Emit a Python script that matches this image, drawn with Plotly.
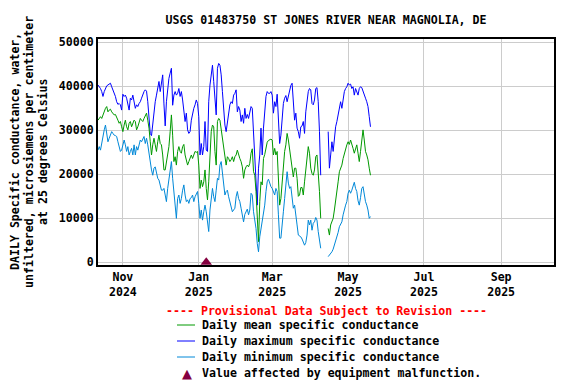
import pandas as pd
import plotly.graph_objects as go

N = None
start_date = "2024-10-12"

daily_max = [
    40300, 39900, 39500, 38800, 37700, 38800, 39700, 40100, 40300, 40500,
    40700, 39900, 39200, 38400, 37700, 36500, 35900, 36100, 35800, 34600,
    38200, 37700, 38000, 37300, 36100, 34600, 37300, 36900, 38000, 36100,
    35000, 35800, 35400, 36100, 36500, 37300, 38200, 38800, 39200, 38900,
    36500, 32000, 29300, 28800, 32000, 34200, 36500, 38000, 39500, 41100,
    38800, 41400, 42600, 36000, 31000, 36500, 39500, 41800, 43000, 44100,
    35700, 38000, 38800, 38000, 38400, 39500, 37700, 38800, 36900, 34600,
    32000, 33900, 30100, 29300, 29700, 32300, 33900, 35000, 35800, 36900,
    36100, 33100, 24400, 27000, 24400, 26300, 32000, 25500, 25200, 36500,
    40300, 43300, 44800, 41100, 36500, 33500, 44100, 45200, 44800, 42600,
    38800, 35000, 31200, 29700, 32000, 34600, 35800, 36500, 36100, 38000,
    38400, 39200, 34200, 35400, 34600, 32000, 33500, 31600, 35000, 32700,
    33600, 32700, 33900, 35400, 35000, 29700, 26700, 19800, 13000, 21400,
    24400, 30500, 24400, 30500, 33900, 37700, 38800, 38400, 38400, 38800,
    38000, 33900, 36500, 35400, 38200, 32000, 27000, 28900, 32000, 36100,
    37300, 37900, 36500, 37700, 39300, 40200, 40700, 35400, 32300, 33900,
    30500, 29700, 28200, 30800, 31000, 32000, 29300, 34200, 36900, 38800,
    39500, 39200, 36100, 35800, 36900, 39500, 39700, 36500, 29700, 19800,
    N, N, N, N, N, 29700, 21400, 24400, 27400, 25200,
    28200, 30800, 32000, 33500, 35800, 36500, 35000, 37300, 38800, 39500,
    39900, 40700, 40300, 40500, 39500, 39900, 38000, 39500, 38800, 38000,
    39500, 39900, 39700, 38800, 37700, 37300, 36500, 35400, 33100, 30800,
]

daily_mean = [
    32300, 32700, 33100, 32700, 33500, 34600, 35000, 35400, 34200, 34600,
    34800, 34200, 33900, 33500, 33600, 33100, 32300, 31600, 32000, 30800,
    29700, 31200, 32300, 30800, 30100, 31600, 32000, 30800, 31600, 32300,
    32000, 30100, 30800, 32000, 32700, 32300, 32000, 32700, 33500, 33900,
    32300, 30500, 27400, 24400, 26700, 28200, 26700, 25200, 27400, 28900,
    27000, 26700, 24400, 21000, 21000, 22900, 24400, 26300, 29700, 33500,
    28900, 22900, 24000, 22100, 25200, 26300, 25200, 24800, 26300, 26800,
    24400, 22900, 22100, 22900, 23600, 24400, 23600, 24400, 25200, 25000,
    25200, 22100, 16800, 18700, 17200, 18300, 21000, 16800, 14200, 18300,
    25200, 29700, 31200, 30800, 25200, 22100, 32000, 32700, 32300, 30400,
    28200, 25900, 24000, 22100, 24000, 23600, 22900, 23300, 24000, 22900,
    24000, 24400, 25500, 24400, 23600, 22900, 21700, 19100, 21000, 21700,
    22100, 21700, 22500, 24800, 25800, 20600, 19800, 16100, 9200, 4700,
    13800, 18300, 17600, 23600, 24500, 25900, 27300, 27700, 27800, 28000,
    27800, 24400, 25900, 24400, 25200, 18300, 13000, 14500, 18300, 22900,
    25200, 26700, 29300, 27800, 25500, 23300, 20600, 19400, 21400, 21400,
    19100, 15000, 15300, 17000, 17000, 15300, 18300, 21400, 24000, 26300,
    24800, 21400, 20200, 19800, 21000, 24000, 24400, 21000, 16100, 10000,
    N, N, N, N, N, 7700, 6200, 8500, 9200, 10000,
    11900, 14500, 16800, 18300, 20600, 21400, 22100, 23600, 24800, 25500,
    26700, 27400, 26800, 27800, 27000, 25900, 24800, 26100, 26700, 24800,
    22900, 25200, 28600, 30100, 27800, 25200, 24400, 23300, 21400, 19800,
]

daily_min = [
    25500, 26300, 25500, 27400, 28900, 30100, 31200, 29300, 27400, 28200,
    28900, 29700, 29300, 28900, 28800, 28600, 27400, 25900, 25200, 25500,
    26700, 27800, 26700, 25200, 26300, 24400, 25200, 25900, 24400, 26700,
    24400, 26300, 25500, 26700, 27800, 27400, 28200, 28600, 27000, 28200,
    26700, 24400, 22500, 21000, 19800, 21400, 21700, 20600, 19100, 18700,
    17600, 16400, 16400, 16800, 15300, 13800, 16800, 18700, 21000, 22900,
    19100, 16100, 12300, 10000, 14500, 15300, 13400, 14500, 16400, 17600,
    15300, 13800, 14200, 13400, 14500, 14700, 15300, 13800, 14900, 15700,
    16100, 13400, 10000, 11900, 9600, 11500, 13000, 11500, 9200, 7000,
    11900, 15300, 16800, 14900, 13800, 16400, 19100, 18700, 22100, 22900,
    19800, 17200, 15300, 16100, 16400, 14900, 13800, 12300, 11500, 11900,
    12300, 14900, 16100, 14500, 13800, 12300, 10800, 9200, 10900, 11500,
    12100, 10800, 11900, 15700, 15300, 11500, 10000, 7700, 4300, 2400,
    5800, 7700, 9200, 11500, 13000, 16100, 18300, 18900, 18000, 17200,
    16800, 15900, 15300, 16800, 16100, 10800, 5500, 5500, 9600, 11500,
    14500, 18300, 20600, 18000, 16800, 17200, 14500, 12300, 13000, 10000,
    8500, 6200, 6000, 5800, 5300, 4700, 3900, 4500, 6200, 9600,
    8500, 9600, 7300, 8900, 9200, 10200, 9600, 7000, 4300, 3200,
    N, N, N, N, N, 1300, 1700, 1900, 2400, 3000,
    3900, 4700, 5700, 6800, 8100, 8600, 9200, 10800, 12100, 13000,
    13800, 15700, 16400, 15700, 16400, 17400, 18200, 16800, 16100, 14000,
    13000, 14700, 16800, 17200, 15300, 13800, 13000, 11900, 10000, 10400,
]

malfunction_dates = ["2025-01-07"]
malfunction_values = [0]

x_tick_dates = ["2024-11-01", "2025-01-01", "2025-03-01", "2025-05-01", "2025-07-01", "2025-09-01"]
x_tick_labels = ["Nov<br>2024", "Jan<br>2025", "Mar<br>2025", "May<br>2025", "Jul<br>2025", "Sep<br>2025"]
y_tick_values = [0, 10000, 20000, 30000, 40000, 50000]

title_text = "USGS 01483750 ST JONES RIVER NEAR MAGNOLIA, DE"
y_title_lines = ["DAILY Specific conductance, water,", "unfiltered, microsiemens per centimeter", "at 25 degrees Celsius"]
provisional_text = "---- Provisional Data Subject to Revision ----"
legend_labels = ["Daily mean specific conductance", "Daily maximum specific conductance",
                 "Daily minimum specific conductance", "Value affected by equipment malfunction."]

dates = pd.date_range(start_date, periods=len(daily_max), freq="D")

C_MEAN = "#009900"
C_MAX = "#0000FF"
C_MIN = "#0088D8"
C_MAL = "#850040"
FONT = "DejaVu Sans Mono"
FS = 11.6

# the page body has an 8px margin; lay the figure out in screen pixels minus that offset
OFF = 8
W, H = 576 - OFF, 384 - OFF
PLOT_L, PLOT_R, PLOT_T, PLOT_B = 98, 554, 39, 265  # screen pixels of the plot frame
L = PLOT_L - OFF
T = PLOT_T - OFF
R = W - (PLOT_R - OFF)
B = H - (PLOT_B - OFF)
PW, PH = W - L - R, H - T - B


def px2paper(px, py):
    return (px - OFF - L) / PW, (H - B - (py - OFF)) / PH


fig = go.Figure()
fig.add_trace(go.Scatter(x=dates, y=daily_min, mode="lines", line=dict(color=C_MIN, width=1),
                         name=legend_labels[2], showlegend=False))
fig.add_trace(go.Scatter(x=dates, y=daily_max, mode="lines", line=dict(color=C_MAX, width=1),
                         name=legend_labels[1], showlegend=False))
fig.add_trace(go.Scatter(x=dates, y=daily_mean, mode="lines", line=dict(color=C_MEAN, width=1),
                         name=legend_labels[0], showlegend=False))
fig.add_trace(go.Scatter(x=malfunction_dates, y=malfunction_values, mode="markers",
                         marker=dict(symbol="triangle-up", size=10, color=C_MAL),
                         cliponaxis=False, name=legend_labels[3], showlegend=False))

font = dict(family=FONT, size=FS, color="black", weight="bold")

fig.update_layout(
    width=W, height=H,
    margin=dict(l=L, r=R, t=T, b=B),
    paper_bgcolor="white", plot_bgcolor="white",
    font=font,
    title=dict(text=title_text, x=0.5, xref="paper", xanchor="center",
               y=1 - (20 - OFF) / H, yref="container", yanchor="middle", font=font),
    showlegend=False,
)
fig.update_xaxes(
    range=["2024-10-12", "2025-10-13 12:00"],
    tickvals=x_tick_dates, ticktext=x_tick_labels,
    showgrid=True, gridcolor="#CCCCCC", gridwidth=1,
    showline=True, linecolor="black", linewidth=2, mirror=True,
    ticks="", tickfont=font, zeroline=False,
)
fig.update_yaxes(
    range=[-600, 50750],
    tickvals=y_tick_values, tickformat="d",
    showgrid=True, gridcolor="#CCCCCC", gridwidth=1,
    showline=True, linecolor="black", linewidth=2, mirror=True,
    ticks="", tickfont=font, zeroline=False,
)

ann = []
for line_text, line_x in zip(y_title_lines, [15, 29, 43]):
    sx, sy = px2paper(line_x, 152)
    ann.append(dict(text=line_text, x=sx, y=sy, xref="paper", yref="paper",
                    xanchor="center", yanchor="middle", textangle=-90, showarrow=False,
                    font=font, borderpad=0))
hx, hy = px2paper(326, 311)
ann.append(dict(text=provisional_text, x=hx, y=hy, xref="paper", yref="paper",
                xanchor="center", yanchor="middle", showarrow=False,
                font=dict(family=FONT, size=FS, color="#FF0000", weight="bold")))

shapes = []
rows_y = [325, 341, 357, 373]
row_colors = [C_MEAN, C_MAX, C_MIN]
for i, py in enumerate(rows_y):
    tx, ty = px2paper(200, py)
    ann.append(dict(text=legend_labels[i], x=tx, y=ty, xref="paper", yref="paper",
                    xanchor="left", yanchor="middle", showarrow=False, font=font))
    if i < 3:
        x0, y0 = px2paper(177, py)
        x1, _ = px2paper(195, py)
        shapes.append(dict(type="line", xref="paper", yref="paper", x0=x0, x1=x1, y0=y0, y1=y0,
                           line=dict(color=row_colors[i], width=1)))
    else:
        mx, my = px2paper(187, py)
        ann.append(dict(text="▲", x=mx, y=my, xref="paper", yref="paper",
                        xanchor="center", yanchor="middle", showarrow=False,
                        font=dict(family="DejaVu Sans", size=13, color=C_MAL)))

fig.update_layout(annotations=ann, shapes=shapes)
fig.write_html("out.html")
